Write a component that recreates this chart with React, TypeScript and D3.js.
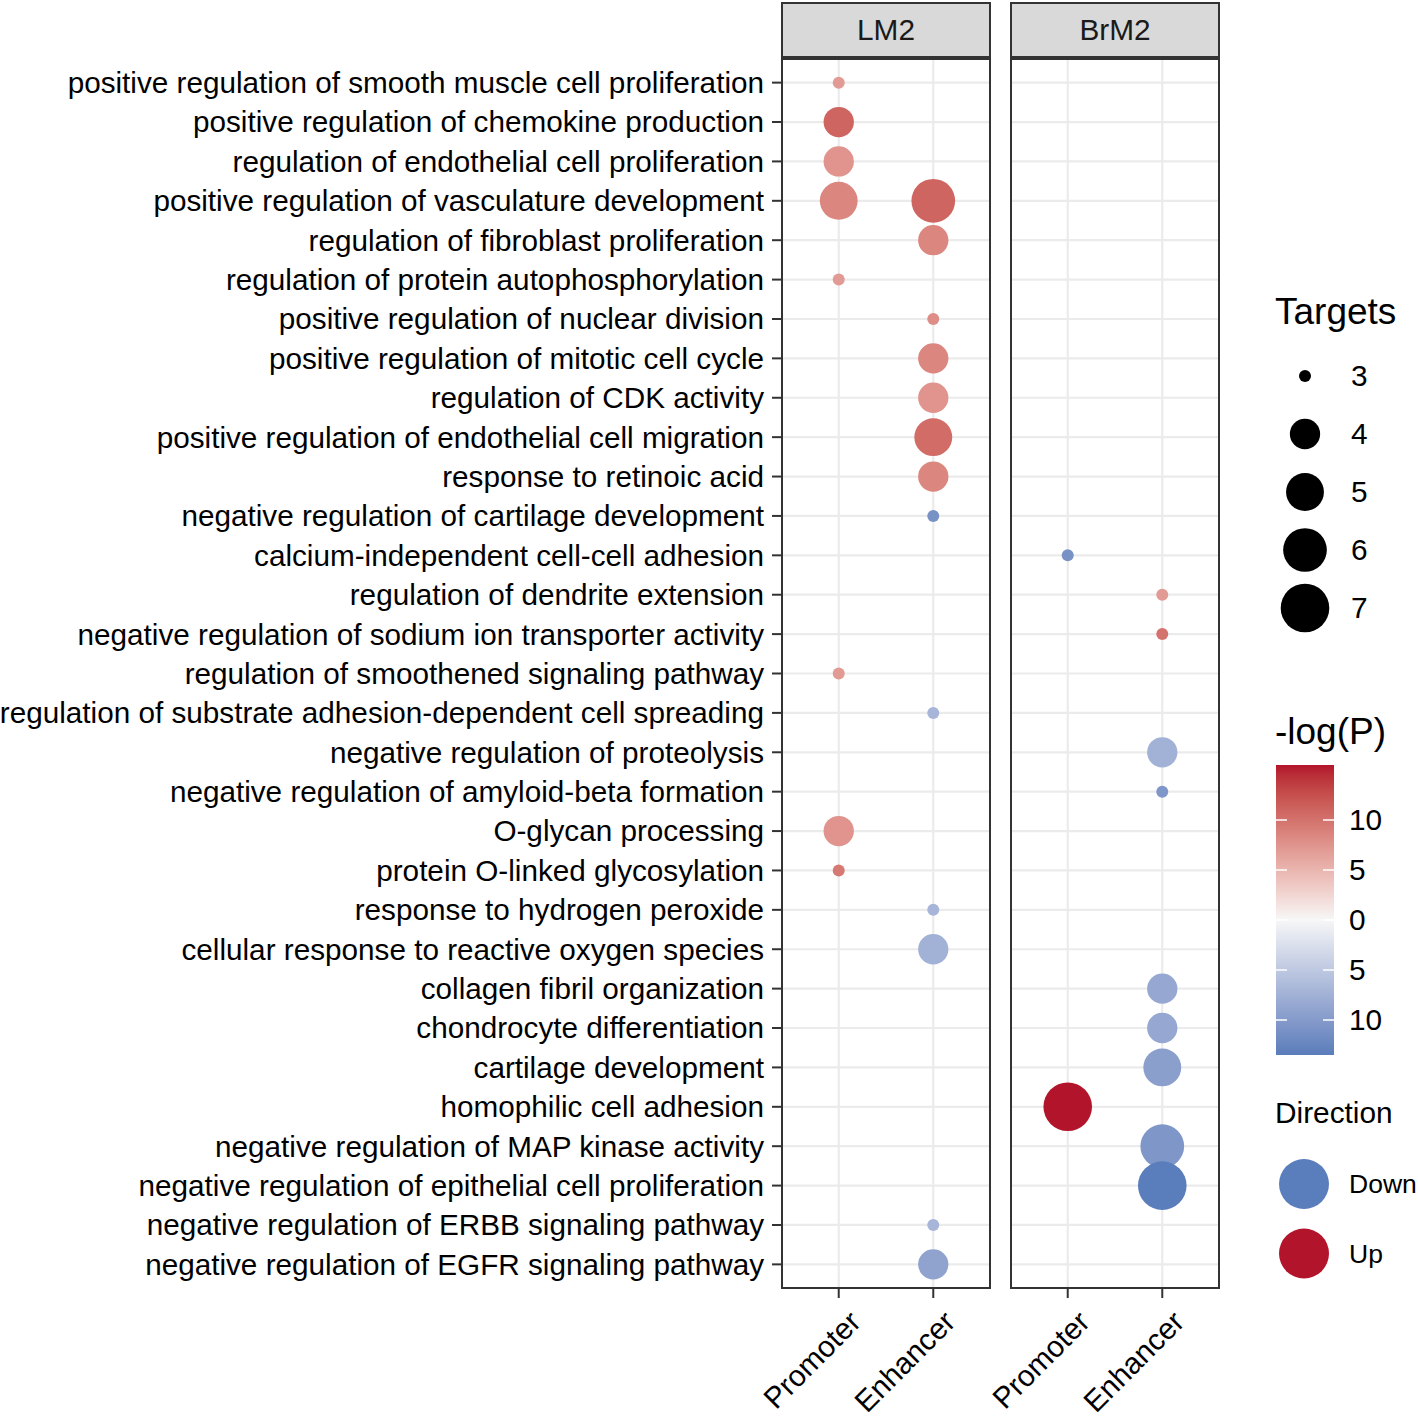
import React from 'react';
import * as d3 from 'd3';

const terms = [
  "positive regulation of smooth muscle cell proliferation",
  "positive regulation of chemokine production",
  "regulation of endothelial cell proliferation",
  "positive regulation of vasculature development",
  "regulation of fibroblast proliferation",
  "regulation of protein autophosphorylation",
  "positive regulation of nuclear division",
  "positive regulation of mitotic cell cycle",
  "regulation of CDK activity",
  "positive regulation of endothelial cell migration",
  "response to retinoic acid",
  "negative regulation of cartilage development",
  "calcium-independent cell-cell adhesion",
  "regulation of dendrite extension",
  "negative regulation of sodium ion transporter activity",
  "regulation of smoothened signaling pathway",
  "regulation of substrate adhesion-dependent cell spreading",
  "negative regulation of proteolysis",
  "negative regulation of amyloid-beta formation",
  "O-glycan processing",
  "protein O-linked glycosylation",
  "response to hydrogen peroxide",
  "cellular response to reactive oxygen species",
  "collagen fibril organization",
  "chondrocyte differentiation",
  "cartilage development",
  "homophilic cell adhesion",
  "negative regulation of MAP kinase activity",
  "negative regulation of epithelial cell proliferation",
  "negative regulation of ERBB signaling pathway",
  "negative regulation of EGFR signaling pathway",
];

const panels = ["LM2", "BrM2"];
const regions = ["Promoter", "Enhancer"];
const targetTicks = [3, 4, 5, 6, 7];
const logpTicks = [10, 5, 0, -5, -10];
const logpLimits = [-13.5, 15.5];
const directions = ["Down", "Up"];

// term index, panel, region, targets, signed -log(P) (negative = Down)
const points: [number, string, string, number, number][] = [
  [0, "LM2", "Promoter", 3, 7],
  [1, "LM2", "Promoter", 4, 11],
  [2, "LM2", "Promoter", 4, 7.5],
  [3, "LM2", "Promoter", 5, 8.5],
  [3, "LM2", "Enhancer", 6, 11],
  [4, "LM2", "Enhancer", 4, 8.5],
  [5, "LM2", "Promoter", 3, 7],
  [6, "LM2", "Enhancer", 3, 8],
  [7, "LM2", "Enhancer", 4, 8.5],
  [8, "LM2", "Enhancer", 4, 7.5],
  [9, "LM2", "Enhancer", 5, 10.5],
  [10, "LM2", "Enhancer", 4, 8.5],
  [11, "LM2", "Enhancer", 3, -11],
  [12, "BrM2", "Promoter", 3, -11],
  [13, "BrM2", "Enhancer", 3, 7],
  [14, "BrM2", "Enhancer", 3, 10],
  [15, "LM2", "Promoter", 3, 7],
  [16, "LM2", "Enhancer", 3, -7],
  [17, "BrM2", "Enhancer", 4, -7.5],
  [18, "BrM2", "Enhancer", 3, -10.5],
  [19, "LM2", "Promoter", 4, 7.5],
  [20, "LM2", "Promoter", 3, 9.5],
  [21, "LM2", "Enhancer", 3, -7],
  [22, "LM2", "Enhancer", 4, -7.5],
  [23, "BrM2", "Enhancer", 4, -8.5],
  [24, "BrM2", "Enhancer", 4, -8.5],
  [25, "BrM2", "Enhancer", 5, -9.5],
  [26, "BrM2", "Promoter", 7, 15.5],
  [27, "BrM2", "Enhancer", 6, -10.5],
  [28, "BrM2", "Enhancer", 7, -13.5],
  [29, "LM2", "Enhancer", 3, -7],
  [30, "LM2", "Enhancer", 4, -9],
];

const font = "'Liberation Sans', Arial, Helvetica, sans-serif";

export default function App() {
  const width = 1418;
  const height = 1417;
  const panelTop = 59;
  const panelBottom = 1288;
  const panelW = 208;
  const panelX = d3.scaleOrdinal<string, number>().domain(panels).range([782, 1011]);

  const x = d3.scalePoint<string>().domain(regions).range([0, panelW]).padding(0.6);
  const y = d3.scalePoint<string>().domain(terms).range([panelTop, panelBottom]).padding(0.6);

  const frac = d3.scaleLinear().domain([3, 7]).range([0, 1]).clamp(true);
  const rad = d3.scaleLinear().domain([0, 1]).range([6, 24.3]);
  const size = (t: number) => rad(Math.sqrt(frac(t)));

  const color = d3.scaleLinear<string>()
    .domain([-15.5, 0, 15.5])
    .range(["#3D6CB2", "#F7F7F7", "#B2152B"])
    .interpolate(d3.interpolateLab);

  const barY = d3.scaleLinear().domain(logpLimits).range([1055, 765]);
  const gradStops = d3.range(0, 31).map(i => logpLimits[1] - (i / 30) * (logpLimits[1] - logpLimits[0]));

  return (
    <svg width={width} height={height} style={{ position: 'absolute', left: 0, top: 0, background: 'white' }} fontFamily={font}>
      <defs>
        <linearGradient id="cbar" x1="0" y1="0" x2="0" y2="1">
          {gradStops.map((v, i) => (
            <stop key={i} offset={`${(i / 30) * 100}%`} stopColor={color(v)} />
          ))}
        </linearGradient>
      </defs>

      {/* y axis labels and ticks */}
      {terms.map(t => (
        <g key={t}>
          <text x={764} y={y(t)} dy="0.35em" textAnchor="end" fontSize={29.7} fill="#000">{t}</text>
          <line x1={772} x2={782} y1={y(t)} y2={y(t)} stroke="#333" strokeWidth={2} />
        </g>
      ))}

      {panels.map(p => {
        const px = panelX(p);
        return (
          <g key={p} transform={`translate(${px},0)`}>
            {/* strip */}
            <rect x={0} y={3} width={panelW} height={54} fill="#D9D9D9" stroke="#333" strokeWidth={2} />
            <text x={panelW / 2} y={30} dy="0.35em" textAnchor="middle" fontSize={29.8} fill="#1A1A1A">{p}</text>
            {/* panel */}
            <rect x={0} y={panelTop} width={panelW} height={panelBottom - panelTop} fill="white" />
            {terms.map(t => (
              <line key={t} x1={0} x2={panelW} y1={y(t)} y2={y(t)} stroke="#EBEBEB" strokeWidth={2.2} />
            ))}
            {regions.map(r => (
              <line key={r} x1={x(r)} x2={x(r)} y1={panelTop} y2={panelBottom} stroke="#EBEBEB" strokeWidth={2.2} />
            ))}
            {points.filter(d => d[1] === p).map((d, i) => (
              <circle key={i} cx={x(d[2])} cy={y(terms[d[0]])} r={size(d[3])} fill={color(d[4])} />
            ))}
            <rect x={0} y={panelTop} width={panelW} height={panelBottom - panelTop} fill="none" stroke="#333" strokeWidth={2} />
            {/* x ticks and labels */}
            {regions.map(r => (
              <g key={r}>
                <line x1={x(r)} x2={x(r)} y1={panelBottom} y2={panelBottom + 10} stroke="#333" strokeWidth={2} />
                <text transform={`translate(${(x(r) as number) + 8},${panelBottom + 20}) rotate(-45)`} dy="0.75em" textAnchor="end" fontSize={29.8} fill="#000">{r}</text>
              </g>
            ))}
          </g>
        );
      })}

      {/* Targets legend */}
      <text x={1275} y={324} fontSize={37} fill="#000">Targets</text>
      {targetTicks.map((t, i) => {
        const cy = 376 + i * 58;
        return (
          <g key={t}>
            <circle cx={1305} cy={cy} r={size(t)} fill="#000" />
            <text x={1351} y={cy} dy="0.35em" fontSize={29.8} fill="#000">{t}</text>
          </g>
        );
      })}

      {/* -log(P) colorbar */}
      <text x={1275} y={744} fontSize={37} fill="#000">-log(P)</text>
      <rect x={1276} y={765} width={58} height={290} fill="url(#cbar)" />
      {logpTicks.map((v, i) => (
        <g key={i}>
          <line x1={1276} x2={1287} y1={barY(v)} y2={barY(v)} stroke="white" strokeWidth={1.5} />
          <line x1={1323} x2={1334} y1={barY(v)} y2={barY(v)} stroke="white" strokeWidth={1.5} />
          <text x={1349} y={barY(v)} dy="0.35em" fontSize={29.8} fill="#000">{Math.abs(v)}</text>
        </g>
      ))}

      {/* Direction legend */}
      <text x={1275} y={1123} fontSize={29.8} fill="#000">Direction</text>
      {directions.map((dname, i) => {
        const cy = 1184 + i * 69.5;
        return (
          <g key={dname}>
            <circle cx={1304} cy={cy} r={25} fill={dname === "Up" ? color(logpLimits[1]) : color(logpLimits[0])} />
            <text x={1349} y={cy} dy="0.35em" fontSize={26.5} fill="#000">{dname}</text>
          </g>
        );
      })}
    </svg>
  );
}
